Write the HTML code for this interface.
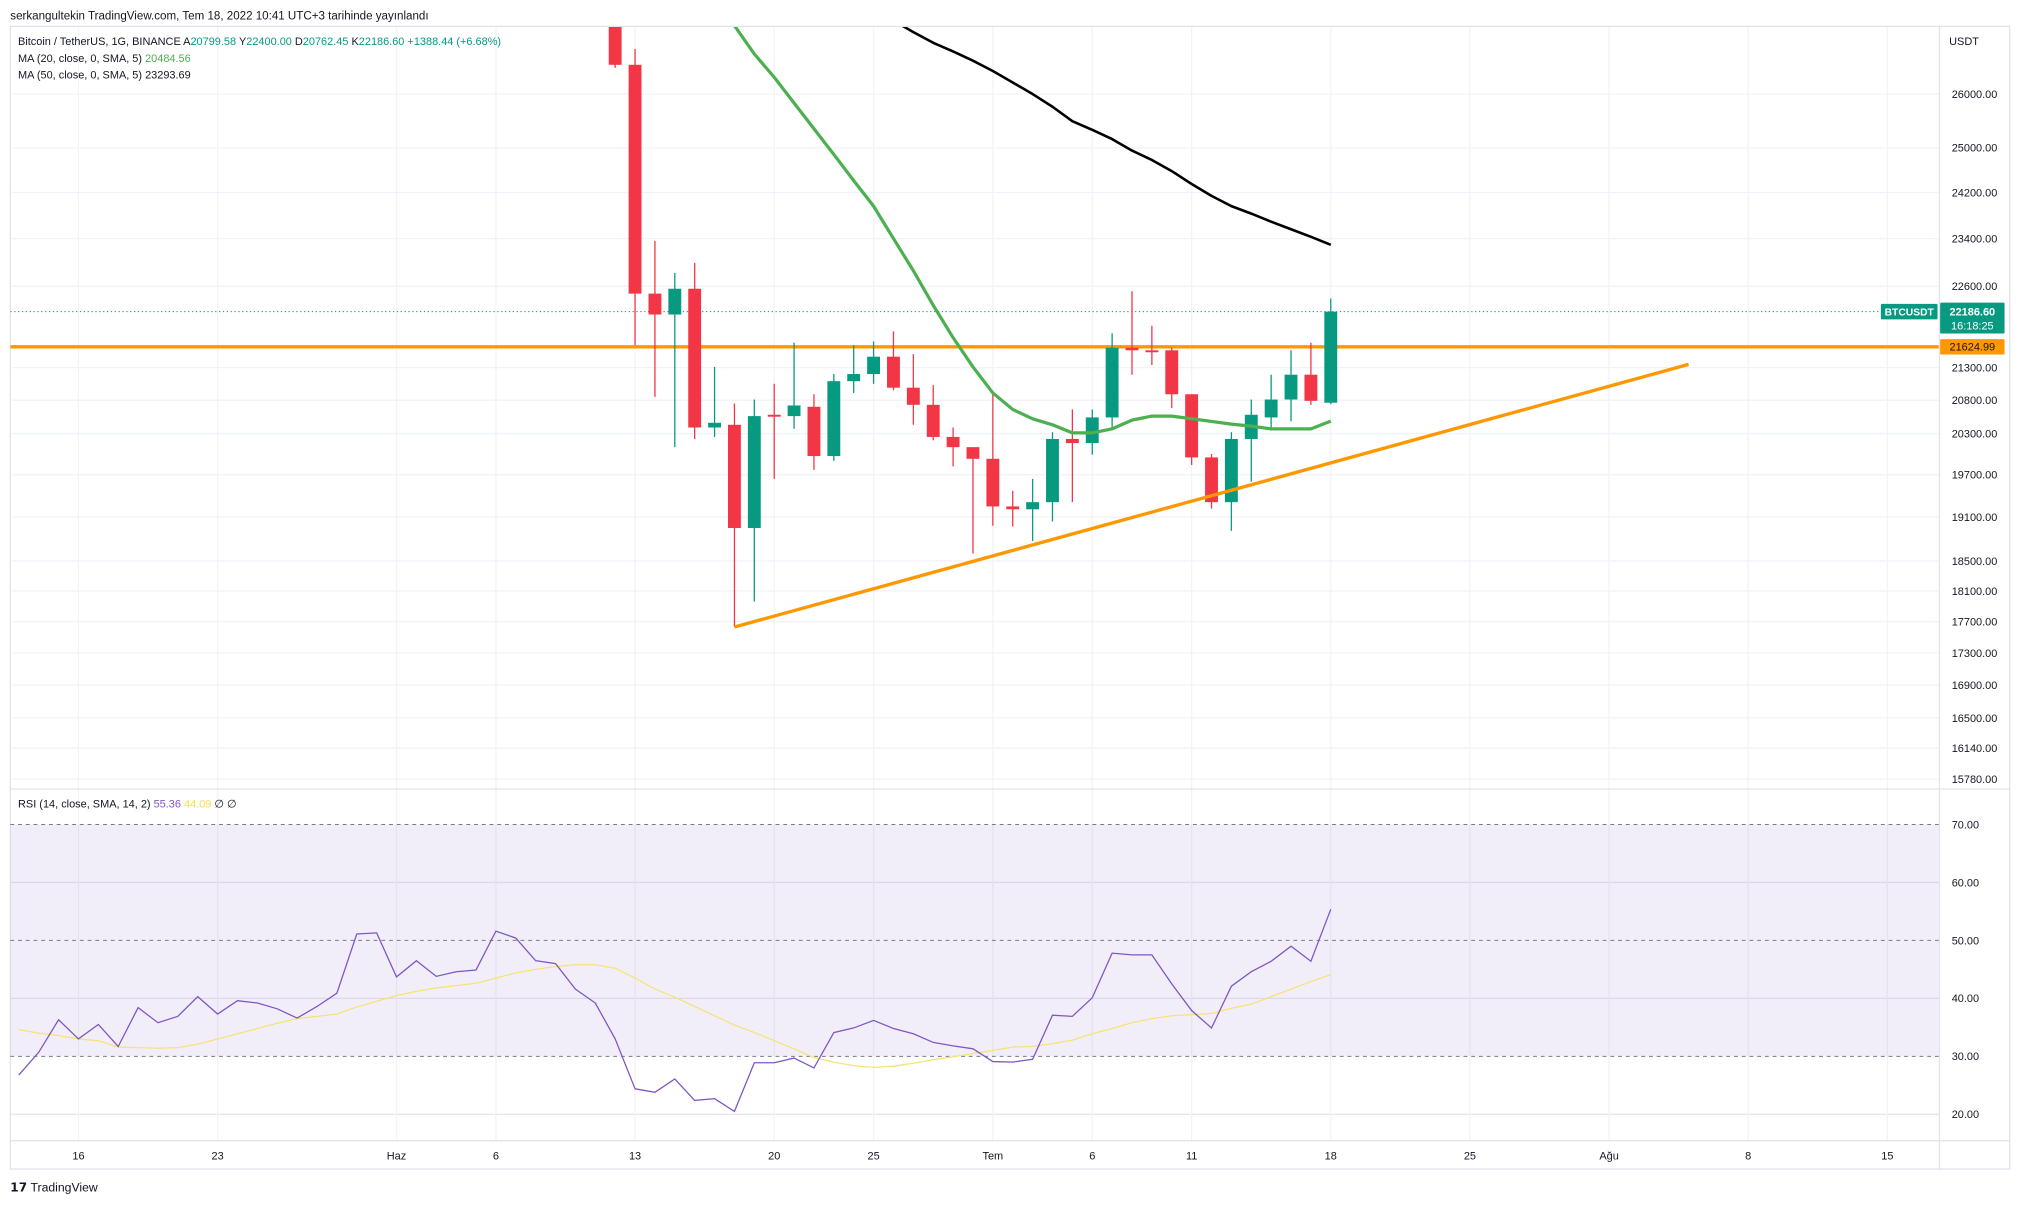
<!DOCTYPE html>
<html><head><meta charset="utf-8"><style>
html,body{margin:0;padding:0;background:#fff;}
svg{display:block;font-family:"Liberation Sans",sans-serif;}
</style></head><body>
<svg id="chart" width="2020" height="1205" viewBox="0 0 1568 935.4" preserveAspectRatio="none" xmlns="http://www.w3.org/2000/svg">
<defs><clipPath id="mainClip"><rect x="8" y="21" width="1497" height="591"/></clipPath>
<clipPath id="rsiClip"><rect x="8" y="613" width="1497" height="272"/></clipPath></defs>
<text x="8" y="15" font-size="9" fill="#131722">serkangultekin TradingView.com, Tem 18, 2022 10:41 UTC+3 tarihinde yayınlandı</text>
<rect x="8" y="20.5" width="1552" height="887" fill="none" stroke="#e0e3eb" stroke-width="1"/>
<g id="grid"></g>
<rect x="8" y="640" width="1497" height="180" fill="#7e57c2" fill-opacity="0.1"/>
<g id="rsiLevels"></g>
<line x1="8" y1="612.5" x2="1560" y2="612.5" stroke="#e0e3eb"/>
<line x1="1505.5" y1="20" x2="1505.5" y2="908" stroke="#e0e3eb"/>
<line x1="8" y1="885.5" x2="1560" y2="885.5" stroke="#e0e3eb"/>
<g id="main" clip-path="url(#mainClip)"></g>
<g id="rsi" clip-path="url(#rsiClip)"></g>
<g id="axes"></g>
<g font-size="8.5">
<text x="14" y="35" fill="#131722">Bitcoin / TetherUS, 1G, BINANCE  A<tspan fill="#089981">20799.58</tspan>  Y<tspan fill="#089981">22400.00</tspan>  D<tspan fill="#089981">20762.45</tspan>  K<tspan fill="#089981">22186.60  +1388.44 (+6.68%)</tspan></text>
<text x="14" y="48" fill="#131722">MA (20, close, 0, SMA, 5)  <tspan fill="#4caf50">20484.56</tspan></text>
<text x="14" y="61" fill="#131722">MA (50, close, 0, SMA, 5)  <tspan fill="#131722">23293.69</tspan></text>
<text x="1513" y="35" fill="#131722">USDT</text>
</g>
<text x="14" y="627" font-size="8.5" fill="#131722">RSI (14, close, SMA, 14, 2)  <tspan fill="#7e57c2">55.36</tspan>  <tspan fill="#f5e050">44.09</tspan>  ∅  ∅</text>
<text x="8" y="925" font-size="9.5" fill="#131722"><tspan font-weight="bold">𝟭𝟳</tspan> TradingView</text>
</svg>
<script>
const candleDates=["2022-06-12","2022-06-13","2022-06-14","2022-06-15","2022-06-16","2022-06-17","2022-06-18","2022-06-19","2022-06-20","2022-06-21","2022-06-22","2022-06-23","2022-06-24","2022-06-25","2022-06-26","2022-06-27","2022-06-28","2022-06-29","2022-06-30","2022-07-01","2022-07-02","2022-07-03","2022-07-04","2022-07-05","2022-07-06","2022-07-07","2022-07-08","2022-07-09","2022-07-10","2022-07-11","2022-07-12","2022-07-13","2022-07-14","2022-07-15","2022-07-16","2022-07-17","2022-07-18"];
const opens=[28400,26560,22480,22140,22560,20390,20430,18950,20580,20560,20700,19970,21090,21200,21470,20990,20730,20250,20100,19930,19250,19210,19310,20220,20160,20540,21610,21570,21570,20890,19950,19310,20220,20540,20810,21190,20762];
const highs=[28500,26870,23360,22820,22990,21310,20750,20810,21050,21690,20890,21200,21650,21710,21870,21510,21030,20390,20000,20910,19470,19640,20320,20660,20660,21840,22520,21960,21610,20890,20000,20320,20810,21190,21570,21690,22400];
const lows=[26500,21650,20850,20100,20220,20250,17630,17960,19640,20370,19770,19900,20910,21050,20950,20430,20200,19820,18600,18980,18970,18770,19040,19310,19990,20350,21190,21340,20680,19840,19220,18910,19600,20390,20480,20730,20740];
const closes=[26560,22480,22140,22560,20390,20460,18950,20560,20560,20720,19970,21090,21200,21470,20990,20730,20250,20100,19930,19250,19210,19310,20220,20160,20540,21610,21570,21560,20890,19950,19310,20220,20580,20810,21190,20790,22186.6];
const ma20Start="2022-06-18";
const ma20=[27330,26770,26320,25830,25350,24880,24410,23960,23400,22860,22290,21770,21310,20910,20660,20520,20430,20310,20310,20370,20500,20560,20560,20520,20480,20440,20410,20370,20370,20370,20484.56];
const ma50Start="2022-06-26";
const ma50=[27430,27200,26990,26820,26640,26440,26220,26000,25760,25490,25330,25160,24950,24780,24580,24350,24140,23960,23830,23690,23560,23430,23293.69];
const rsiStart="2022-05-13";
const rsi=[26.8,30.7,36.3,33.0,35.5,31.7,38.4,35.8,36.9,40.3,37.3,39.6,39.2,38.2,36.6,38.6,40.9,51.1,51.3,43.7,46.5,43.8,44.6,44.9,51.6,50.4,46.5,46.0,41.6,39.2,33.0,24.4,23.8,26.1,22.4,22.7,20.5,28.9,28.9,29.7,28.0,34.1,34.9,36.2,34.8,33.9,32.4,31.8,31.3,29.1,29.0,29.5,37.1,36.9,40.1,47.8,47.5,47.5,42.5,37.9,34.9,42.1,44.6,46.4,49.0,46.4,55.36];
const rsiMa=[34.6,34.0,33.6,33.0,32.7,31.6,31.5,31.4,31.5,32.1,33.0,33.9,34.8,35.7,36.5,36.9,37.3,38.5,39.5,40.5,41.2,41.8,42.2,42.6,43.5,44.4,45.0,45.5,45.8,45.8,45.2,43.5,41.6,40.2,38.6,37.0,35.4,34.1,32.7,31.3,29.8,29.0,28.4,28.1,28.3,28.8,29.4,29.9,30.5,31.0,31.6,31.7,32.2,32.8,33.9,34.8,35.8,36.5,37.0,37.2,37.4,38.3,39.0,40.3,41.6,42.9,44.09];
const priceTicks=[26000,25000,24200,23400,22600,21300,20800,20300,19700,19100,18500,18100,17700,17300,16900,16500,16140,15780];
const rsiTicks=[70,60,50,40,30,20];
const timeLabels=["16","23","Haz","6","13","20","25","Tem","6","11","18","25","Ağu","8","15"];
const timeDates=["2022-05-16","2022-05-23","2022-06-01","2022-06-06","2022-06-13","2022-06-20","2022-06-25","2022-07-01","2022-07-06","2022-07-11","2022-07-18","2022-07-25","2022-08-01","2022-08-08","2022-08-15"];
const supportLevel=21624.99;
const lastPrice=22186.6;
const trendStart=["2022-06-18",17630];
const trendEnd=["2022-08-05",21350];

const NS="http://www.w3.org/2000/svg";
const REF=Date.UTC(2022,6,18);
function dayOff(s){const p=s.split("-");return (Date.UTC(+p[0],+p[1]-1,+p[2])-REF)/86400000;}
function xDate(s){return 1033+dayOff(s)*15.43;}
function xOff(d){return 1033+d*15.43;}
function yP(p){return 73+(Math.log(26000)-Math.log(p))*1065;}
function yR(v){return 955-4.5*v;}
function mk(tag,attrs,parent){const e=document.createElementNS(NS,tag);for(const k in attrs)e.setAttribute(k,attrs[k]);parent.appendChild(e);return e;}
const grid=document.getElementById('grid'),main=document.getElementById('main'),rsiG=document.getElementById('rsi'),axes=document.getElementById('axes'),lev=document.getElementById('rsiLevels');

priceTicks.forEach(p=>{const y=yP(p);
 const l=mk('line',{x1:8,x2:1505,y1:y,y2:y,stroke:'#f0f3fa'},grid);
 
 
 const t=mk('text',{x:1515,y:y+3,'font-size':8.5,fill:'#131722'},axes);t.textContent=p.toFixed(2);
 
 
});
rsiTicks.forEach(v=>{const y=yR(v);const dashed=(v===70||v===50||v===30);
 const l=mk('line',dashed?{x1:8,x2:1505,y1:y,y2:y,stroke:'#787b86','stroke-dasharray':'3 3','stroke-width':0.8}:{x1:8,x2:1505,y1:y,y2:y,stroke:'#e8e6ee'},dashed?lev:grid);
 
 
 const t=mk('text',{x:1515,y:y+3,'font-size':8.5,fill:'#131722'},axes);t.textContent=v.toFixed(2);
 
 
});
timeLabels.forEach((lab,i)=>{const x=xDate(timeDates[i]);
 const l=mk('line',{x1:x,x2:x,y1:21,y2:885,stroke:'#f0f3fa'},grid);
 
 
 const t=mk('text',{x:x,y:900,'font-size':8.5,fill:'#131722','text-anchor':'middle'},axes);t.textContent=lab;
 
 
});
{const y=yP(supportLevel);const l=mk('line',{x1:8,x2:1505,y1:y,y2:y,stroke:'#ff9800','stroke-width':2.6},main);
 
 }
{const y=yP(lastPrice);const l=mk('line',{x1:8,x2:1460,y1:y,y2:y,stroke:'#089981','stroke-width':0.8,'stroke-dasharray':'1 2'},main);
 
 }
candleDates.forEach((d,i)=>{const x=xDate(d);const up=closes[i]>=opens[i];const col=up?'#089981':'#f23645';
 const g=mk('g',{},main);
 
 
 mk('line',{x1:x,x2:x,y1:yP(highs[i]),y2:yP(lows[i]),stroke:col,'stroke-width':1},g);
 const t=Math.min(yP(opens[i]),yP(closes[i])),b=Math.max(yP(opens[i]),yP(closes[i]));
 mk('rect',{x:x-5,y:t,width:10,height:Math.max(b-t,1.5),fill:col},g);
});
function seriesPath(start,vals,yf){const s=dayOff(start);return vals.map((v,i)=>(i?'L':'M')+xOff(s+i).toFixed(2)+' '+yf(v).toFixed(2)).join(' ');}
{const p=mk('path',{d:seriesPath(ma20Start,ma20,yP),fill:'none',stroke:'#4caf50','stroke-width':2.5,'stroke-linejoin':'round'},main);
 
 }
{const p=mk('path',{d:seriesPath(ma50Start,ma50,yP),fill:'none',stroke:'#000','stroke-width':2,'stroke-linejoin':'round'},main);
 
 }
{const l=mk('line',{x1:xDate(trendStart[0]),y1:yP(trendStart[1]),x2:xDate(trendEnd[0]),y2:yP(trendEnd[1]),stroke:'#ff9800','stroke-width':2.6},main);
 
 }
{const p=mk('path',{d:seriesPath(rsiStart,rsiMa,yR),fill:'none',stroke:'#f5e37a','stroke-width':1},rsiG);
 
 }
{const p=mk('path',{d:seriesPath(rsiStart,rsi,yR),fill:'none',stroke:'#7e57c2','stroke-width':1},rsiG);
 
 }
{const y=yP(lastPrice);
 const g=mk('g',{},axes);
 
 
 mk('rect',{x:1460,y:y-6,width:44,height:12,fill:'#089981',rx:1},g);
 let t=mk('text',{x:1482,y:y+3,'font-size':8,fill:'#fff','text-anchor':'middle','font-weight':'bold'},g);t.textContent='BTCUSDT';
 mk('rect',{x:1506,y:y-7,width:50,height:24,fill:'#089981',rx:1},g);
 t=mk('text',{x:1531,y:y+3,'font-size':8.5,fill:'#fff','text-anchor':'middle','font-weight':'bold'},g);t.textContent=lastPrice.toFixed(2);
 t=mk('text',{x:1531,y:y+14,'font-size':8.5,fill:'#fff','text-anchor':'middle'},g);t.textContent='16:18:25';
 const y2=yP(supportLevel);
 const g2=mk('g',{},axes);
 
 
 mk('rect',{x:1506,y:y2-6,width:50,height:12,fill:'#ff9800',rx:1},g2);
 t=mk('text',{x:1531,y:y2+3,'font-size':8.5,fill:'#131722','text-anchor':'middle'},g2);t.textContent=supportLevel.toFixed(2);
}
</script>
</body></html>
